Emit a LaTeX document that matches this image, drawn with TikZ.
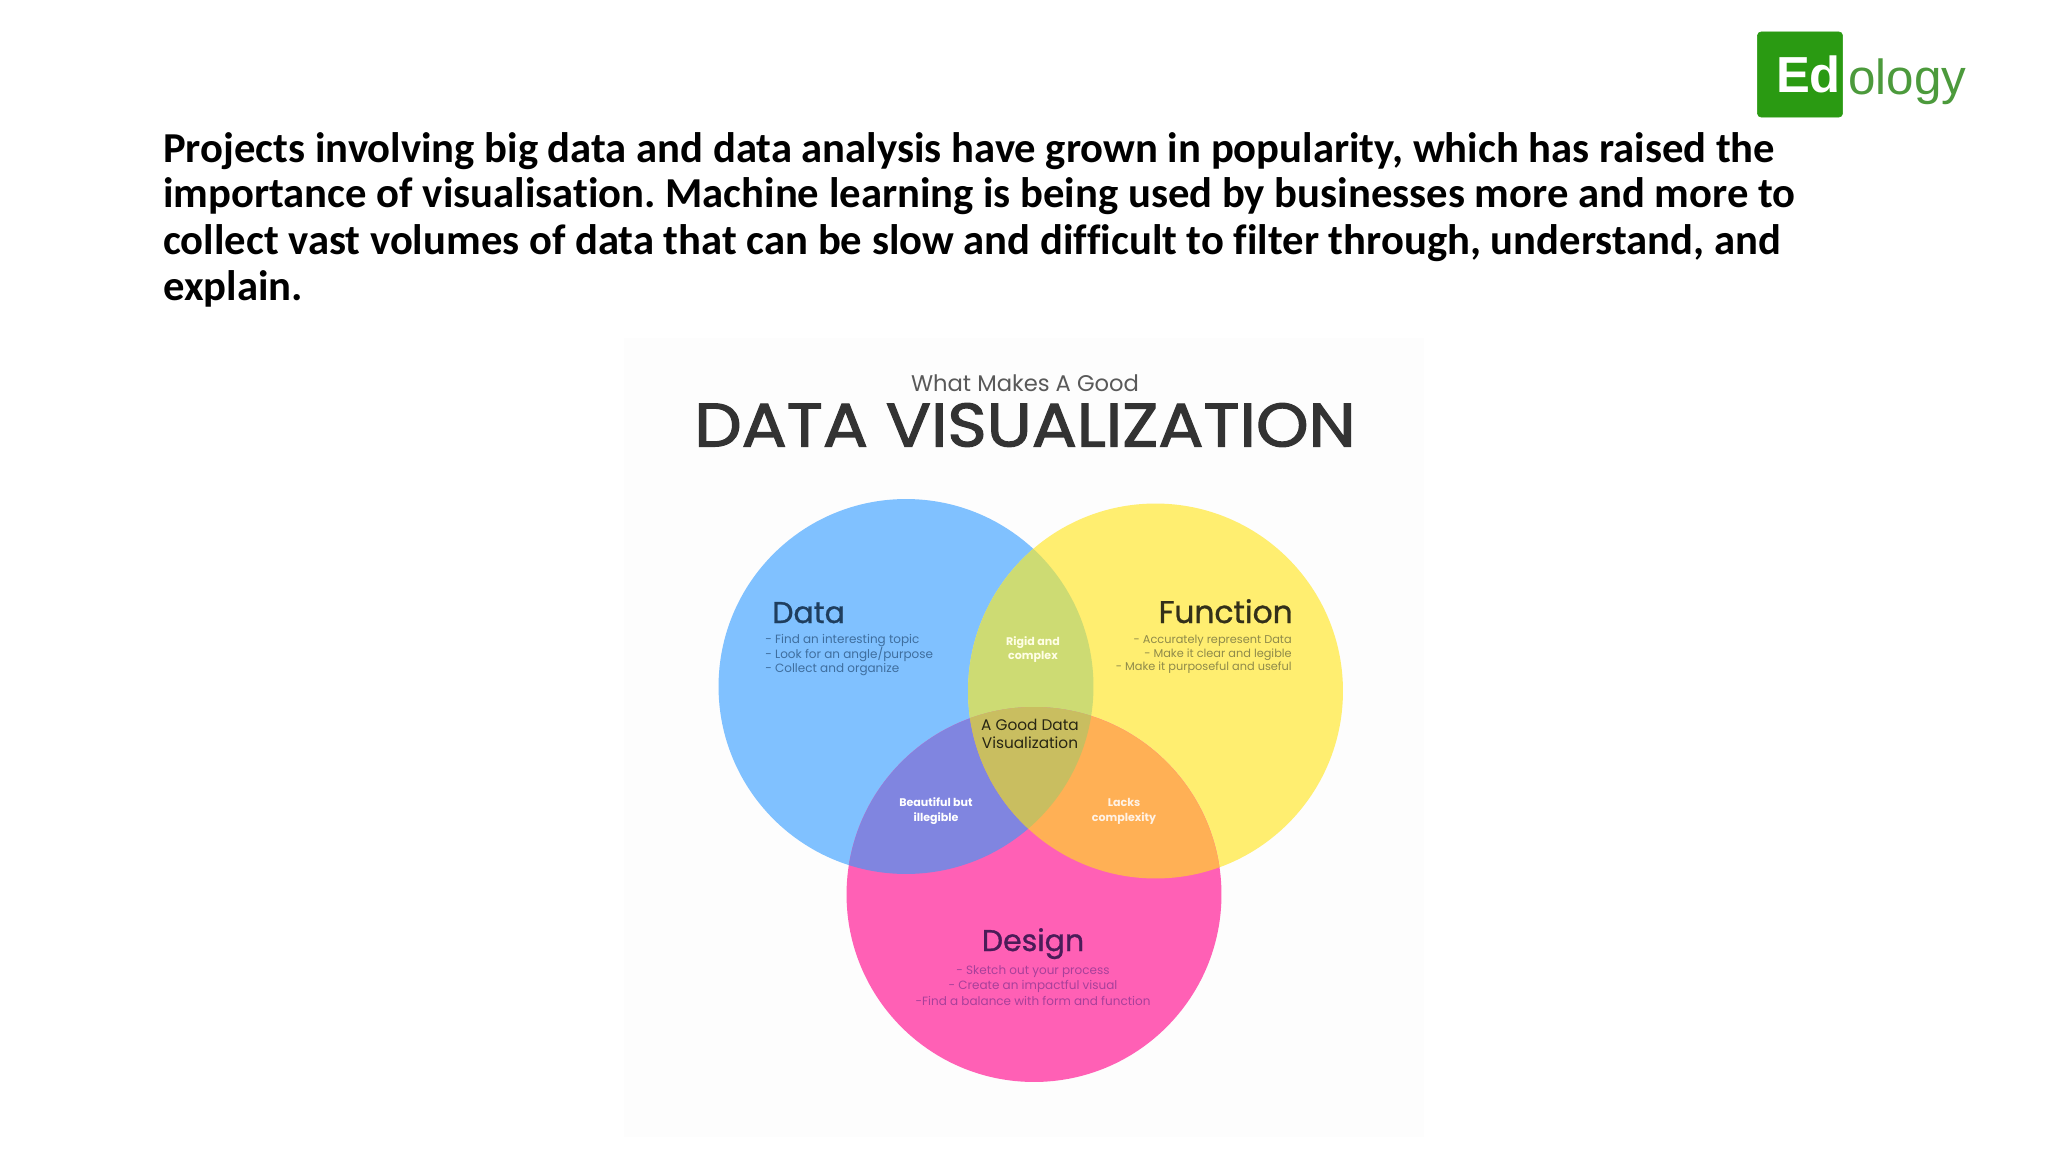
\documentclass[tikz,border=0pt]{standalone}
\usepackage{fontspec}
\setmainfont{Carlito}[Ligatures=CommonOff]
\newfontfamily\infofont{Poppins}
\newfontfamily\headfont{Poppins}[FakeBold=1]
\newfontfamily\titlefont{Poppins}[FakeBold=2, FakeStretch=1.09]
\newfontfamily\logofont{Liberation Sans}
\usetikzlibrary{positioning}

\definecolor{databluecol}{HTML}{80C1FF}
\definecolor{funcyellowcol}{HTML}{FFEE70}
\definecolor{designpinkcol}{HTML}{FF60B5}
\definecolor{rigidcol}{HTML}{CDDB73}
\definecolor{lackscol}{HTML}{FFB055}
\definecolor{beautifulcol}{HTML}{8085E0}
\definecolor{goodcol}{HTML}{C9BE60}
\definecolor{logocol}{HTML}{2A9A12}
\definecolor{ologycol}{HTML}{4C9A3C}
\definecolor{panelcol}{HTML}{FDFDFD}
\definecolor{dataheadcol}{HTML}{1F3E5E}
\definecolor{dataitemcol}{HTML}{3F6E9E}
\definecolor{funcheadcol}{HTML}{33301A}
\definecolor{funcitemcol}{HTML}{8F8A4A}
\definecolor{designheadcol}{HTML}{4A1C58}
\definecolor{designitemcol}{HTML}{A8409A}

\newcommand{\rad}{140.6pt}

\tikzset{
	venn/.style={circle, minimum size=2*\rad, inner sep=0pt, outer sep=0pt},
	bodyline/.style={anchor=base west, inner sep=0pt, font=\fontsize{32}{38}\selectfont\bfseries\frenchspacing},
	heading/.style={inner sep=0pt, font=\headfont\fontsize{22.5}{26}\selectfont},
	item/.style={inner sep=0pt, font=\infofont\fontsize{9}{11}\selectfont},
	overlap/.style={inner sep=0pt, align=center, font=\infofont\bfseries\fontsize{8.3}{11}\selectfont},
}

\begin{document}
\begin{tikzpicture}[x=0.75pt, y=-0.75pt]
	\useasboundingbox (0,0) rectangle (2048,1152);
	\fill[white] (0,0) rectangle (2048,1152);
	\fill[panelcol] (624,338) rectangle (1424,1137);

	% logo
	\node[draw=logocol, fill=logocol, rounded corners=3pt, minimum width=64pt, minimum height=64pt, inner sep=0pt, outer sep=0pt] (logobox) at (1800,74.5) {};
	\node[anchor=base east, inner sep=0pt, text=white, font=\logofont\bfseries\fontsize{38}{40}\selectfont] (logoed) at (1841,93) {Ed};
	\node[anchor=base west, inner sep=0pt, text=ologycol, font=\logofont\fontsize{37}{40}\selectfont] (logoology) at (1848,95) {ology};

	% body text
	\foreach \bodytext [count=\i] in {
		{Projects involving big data and data analysis have grown in popularity, which has raised the},
		{importance of visualisation. Machine learning is being used by businesses more and more to},
		{collect vast volumes of data that can be slow and difficult to filter through, understand, and},
		{explain.}
	} {
		\node[bodyline] (body\i) at (163, 116+\i*46) {\bodytext};
	}

	% title
	\node[inner sep=0pt, text=black!65, font=\infofont\fontsize{17}{20}\selectfont] (subtitle) at (1025,383) {What Makes A Good};
	\node[inner sep=0pt, text=black!80, font=\titlefont\fontsize{46}{50}\selectfont] (title) at (1025,425) {DATA VISUALIZATION};

	% circles
	\node[venn, fill=databluecol] (data) at (906,686.5) {};
	\node[venn, fill=funcyellowcol] (function) at (1155.5,691) {};
	\node[venn, fill=designpinkcol] (design) at (1034,894.5) {};
	\begin{scope}
		\clip (data.center) circle (\rad);
		\fill[rigidcol] (function.center) circle (\rad);
		\fill[beautifulcol] (design.center) circle (\rad);
	\end{scope}
	\begin{scope}
		\clip (function.center) circle (\rad);
		\fill[lackscol] (design.center) circle (\rad);
		\clip (data.center) circle (\rad);
		\fill[goodcol] (design.center) circle (\rad);
	\end{scope}

	% labels
	\node[heading, anchor=base west, text=dataheadcol] (datahead) at (772,623) {Data};
	\foreach \itemtext [count=\i] in {
		{- Find an interesting topic},
		{- Look for an angle/purpose},
		{- Collect and organize}
	} {
		\node[item, anchor=west, text=dataitemcol] (dataitem\i) at (765, 626+\i*14.4) {\itemtext};
	}
	\node[heading, anchor=base east, text=funcheadcol, font=\headfont\fontsize{23.5}{26}\selectfont] (functionhead) at (1293,623) {Function};
	\foreach \itemtext [count=\i] in {
		{- Accurately represent Data},
		{- Make it clear and legible},
		{- Make it purposeful and useful}
	} {
		\node[item, anchor=east, text=funcitemcol, font=\infofont\fontsize{8.5}{11}\selectfont] (functionitem\i) at (1292, 627+\i*13.7) {\itemtext};
	}
	\node[heading, anchor=base, text=designheadcol] (designhead) at (1033,951) {Design};
	\foreach \itemtext [count=\i] in {
		{- Sketch out your process},
		{- Create an impactful visual},
		{-Find a balance with form and function}
	} {
		\node[item, text=designitemcol] (designitem\i) at (1033, 957.5+\i*14.4) {\itemtext};
	}
	\node[overlap, text=white!90!yellow] (rigid) at (1033,649.5) {Rigid and\\complex};
	\node[overlap, text=white] (beautiful) at (936,811) {Beautiful but\\illegible};
	\node[overlap, text=white!90!orange] (lacks) at (1124,811.5) {Lacks\\complexity};
	\node[inner sep=0pt, align=center, text=black!80!goodcol, font=\infofont\fontsize{11.5}{13.5}\selectfont] (good) at (1030,734) {A Good Data\\Visualization};
\end{tikzpicture}
\end{document}
